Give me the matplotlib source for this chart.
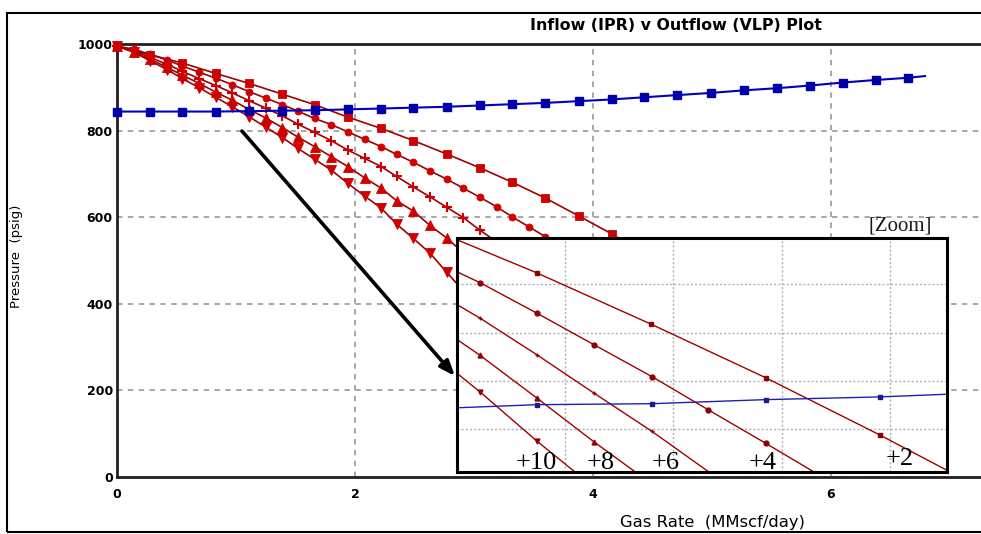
import matplotlib.pyplot as plt
from matplotlib.patches import Rectangle

IPR_LINE = "#a00000"
IPR_MARK = "#d00000"
VLP_LINE = "#0000c0"
VLP_MARK = "#0000aa"
GRID_COLOR = "#a0a0a0"

W, H = 981, 534

# ---- outflow (VLP) curve ----
vlp_rate = [0.0, 0.28, 0.55, 0.83, 1.11, 1.39, 1.66, 1.94, 2.22, 2.49, 2.77,
            3.05, 3.32, 3.60, 3.88, 4.16, 4.43, 4.71, 4.99, 5.27, 5.55, 5.82,
            6.10, 6.38, 6.65, 6.79]
vlp_pres = [844, 844, 844, 844, 845, 846, 847, 849, 851, 853, 855,
            858, 861, 864, 868, 872, 877, 882, 887, 893, 898, 904,
            911, 917, 922, 926]

# ---- inflow (IPR) curves, one per case ----
rate_fine = [0.0, 0.14, 0.28, 0.42, 0.55, 0.69, 0.83, 0.97, 1.11, 1.25, 1.39,
             1.52, 1.66, 1.80, 1.94, 2.08, 2.22, 2.35, 2.49, 2.63, 2.77,
             2.91, 3.05, 3.19, 3.32, 3.46, 3.60]

ipr2_rate = [0.0, 0.28, 0.55, 0.83, 1.11, 1.39, 1.66, 1.94, 2.22, 2.49, 2.77,
             3.05, 3.32, 3.60, 3.88, 4.16, 4.43, 4.71, 4.99, 5.27, 5.55,
             5.82, 5.95]
ipr2_pres = [995, 975, 956, 932, 909, 884, 860, 831, 805, 777, 746,
             714, 681, 644, 603, 561, 516, 468, 411, 346, 264, 149, 20]

ipr4_rate = rate_fine[:27] + [3.74, 3.88, 4.16, 4.43, 4.71, 4.99, 5.13]
ipr4_pres = [995, 988, 976, 963, 949, 935, 921, 906, 890, 875, 860,
             845, 828, 814, 797, 780, 763, 745, 727, 707, 688,
             667, 646, 624, 601, 578, 555,
             529, 502, 443, 376, 292, 169, 20]

ipr6_rate = rate_fine[:23] + [3.30, 3.60, 3.90, 4.20, 4.40, 4.54]
ipr6_pres = [995, 985, 969, 953, 937, 920, 904, 887, 869, 852, 834,
             815, 796, 777, 755, 736, 717, 694, 670, 647, 623,
             599, 570,
             522, 455, 375, 273, 174, 20]

ipr8_rate = rate_fine[:21] + [2.91, 3.05, 3.30, 3.60, 3.80, 3.98]
ipr8_pres = [995, 982, 965, 946, 928, 909, 889, 870, 849, 829, 807,
             785, 763, 740, 717, 691, 667, 638, 614, 581, 552,
             518, 483, 412, 308, 210, 20]

ipr10_rate = rate_fine[:21] + [2.91, 3.05, 3.30, 3.50, 3.57]
ipr10_pres = [995, 981, 961, 941, 920, 899, 877, 855, 832, 808, 784,
              759, 734, 709, 678, 649, 621, 584, 551, 517, 473,
              430, 382, 274, 138, 20]

# ---- zoomed view (inset units) ----
zoom_blue_u = [0.0, 0.737, 1.803, 2.853, 3.906, 4.53]
zoom_blue_v = [1.441, 1.505, 1.526, 1.610, 1.666, 1.722]

zoom2_u = [0.0, 0.737, 1.796, 2.853, 3.906, 4.53]
zoom2_v = [4.924, 4.238, 3.172, 2.065, 0.881, 0.145]
zoom4_u = [0.0, 0.213, 0.737, 1.263, 1.803, 2.323, 2.853, 3.301]
zoom4_v = [4.259, 4.034, 3.404, 2.752, 2.086, 1.399, 0.706, 0.11]
zoom6_u = [0.0, 0.213, 0.737, 1.263, 1.803, 2.329]
zoom6_v = [3.579, 3.299, 2.542, 1.750, 0.951, 0.11]
zoom8_u = [0.0, 0.213, 0.737, 1.263, 1.649]
zoom8_v = [2.857, 2.528, 1.645, 0.741, 0.11]
zoom10_u = [0.0, 0.213, 0.737, 1.091]
zoom10_v = [2.156, 1.770, 0.754, 0.11]

case_labels = ["+10", "+8", "+6", "+4", "+2"]
case_label_u = [0.737, 1.326, 1.928, 2.830, 4.094]
case_label_v = [0.30, 0.30, 0.30, 0.30, 0.37]


def px_box(x0, y0, x1, y1):
    # pixel box (top-left origin) -> figure fraction rect
    return [x0 / W, 1 - y1 / H, (x1 - x0) / W, (y1 - y0) / H]


fig = plt.figure(figsize=(W / 100, H / 100), dpi=100)

# outer frame
fig.patches.append(Rectangle((7 / W, 1 - 532 / H), 1.2, (532 - 13) / H,
                             transform=fig.transFigure, fill=False,
                             edgecolor="black", linewidth=1.5))

ax = fig.add_axes(px_box(117, 44, 117 + 8 * 119, 477))
ax.set_xlim(0, 8)
ax.set_ylim(0, 1000)
ax.set_xticks([0, 2, 4, 6])
ax.set_yticks([0, 200, 400, 600, 800, 1000])
ax.tick_params(length=0, labelsize=9)
ax.tick_params(axis="x", pad=8)
ax.tick_params(axis="y", pad=3)
for lab in ax.get_xticklabels() + ax.get_yticklabels():
    lab.set_fontweight("bold")
ax.grid(True, color=GRID_COLOR, linestyle=(0, (3, 3)), linewidth=1.3)
for side in ["left", "bottom", "top"]:
    ax.spines[side].set_linewidth(2)
    ax.spines[side].set_color("#202020")
ax.spines["right"].set_visible(False)

ipr_sets = [
    (ipr2_rate, ipr2_pres, "s", 5.5),
    (ipr4_rate, ipr4_pres, "o", 5.0),
    (ipr6_rate, ipr6_pres, "+", 6.5),
    (ipr8_rate, ipr8_pres, "^", 6.5),
    (ipr10_rate, ipr10_pres, "v", 6.5),
]
for rate, pres, mk, ms in ipr_sets:
    ax.plot(rate, pres, color=IPR_LINE, linewidth=1.2, marker=mk,
            markersize=ms, markerfacecolor=IPR_MARK, markeredgecolor=IPR_MARK,
            markeredgewidth=1.5 if mk == "+" else 0.6,
            markevery=list(range(len(rate) - 1)), clip_on=False, zorder=3)

ax.plot(vlp_rate, vlp_pres, color=VLP_LINE, linewidth=1.5, marker="s",
        markersize=5.5, markerfacecolor=VLP_MARK, markeredgecolor=VLP_MARK,
        markevery=list(range(len(vlp_rate) - 1)), clip_on=False, zorder=4)

ax.annotate("", xy=(2.84, 233), xytext=(1.05, 799),
            arrowprops=dict(arrowstyle="-|>,head_length=0.9,head_width=0.35",
                            color="black", linewidth=2.6,
                            shrinkA=0, shrinkB=0),
            zorder=5)

fig.text(676 / W, 1 - 25 / H, "Inflow (IPR) v Outflow (VLP) Plot",
         ha="center", va="center", fontsize=11.4, fontweight="bold")
fig.text(712 / W, 1 - 523 / H, "Gas Rate  (MMscf/day)",
         ha="center", va="center", fontsize=11.8)
fig.text(17 / W, 1 - 256 / H, "Pressure  (psig)", rotation=90,
         ha="center", va="center", fontsize=9.5)

# ---- zoom inset ----
axz = fig.add_axes(px_box(457, 238, 947, 472), zorder=10)
axz.set_xlim(0, 4.53)
axz.set_ylim(0.11, 4.96)
axz.set_xticks([1, 2, 3, 4])
axz.set_yticks([1, 2, 3, 4])
axz.tick_params(length=0, labelbottom=False, labelleft=False)
axz.grid(True, color="#b0b0b0", linestyle=(0, (1.5, 1.5)), linewidth=1.0)
for sp in axz.spines.values():
    sp.set_linewidth(2.2)
    sp.set_color("black")

zoom_sets = [
    (zoom2_u, zoom2_v, "s"),
    (zoom4_u, zoom4_v, "o"),
    (zoom6_u, zoom6_v, "+"),
    (zoom8_u, zoom8_v, "^"),
    (zoom10_u, zoom10_v, "v"),
]
for u, v, mk in zoom_sets:
    axz.plot(u, v, color=IPR_LINE, linewidth=1.0, marker=mk, markersize=3.5,
             markerfacecolor="#900000", markeredgecolor="#900000",
             markevery=list(range(1, len(u) - 1)))
axz.plot(zoom_blue_u, zoom_blue_v, color="#2020b0", linewidth=1.0,
         marker="s", markersize=3.5, markerfacecolor="#1a1a90",
         markeredgecolor="#1a1a90", markevery=[1, 2, 3, 4])

for txt, u, v in zip(case_labels, case_label_u, case_label_v):
    axz.text(u, v, txt, ha="center", va="center", fontsize=19,
             family="Liberation Serif", color="black")

fig.text(900 / W, 1 - 226 / H, "[Zoom]", ha="center", va="center",
         fontsize=15, family="Liberation Serif", color="#1a1a1a")

fig.savefig("out.png", dpi=100)
